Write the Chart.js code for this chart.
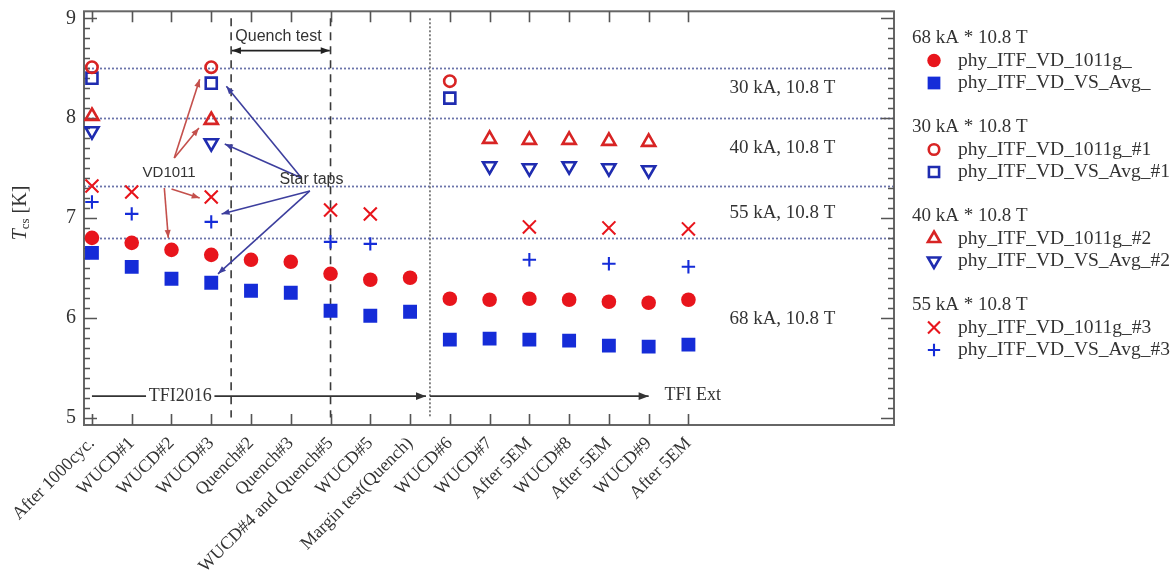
<!DOCTYPE html>
<html>
<head>
<meta charset="utf-8">
<script src="https://cdn.jsdelivr.net/npm/chart.js@4"></script>
<style>
  html, body { margin: 0; padding: 0; background: #fff; }
  canvas { display: block; }
</style>
</head>
<body>
<canvas id="c" width="1174" height="581"></canvas>
<script>
// Test steps along the campaign (x axis)
const categories = ['After 1000cyc.', 'WUCD#1', 'WUCD#2', 'WUCD#3', 'Quench#2', 'Quench#3',
  'WUCD#4 and Quench#5', 'WUCD#5', 'Margin test(Quench)', 'WUCD#6', 'WUCD#7', 'After 5EM',
  'WUCD#8', 'After 5EM', 'WUCD#9', 'After 5EM'];

// Tcs [K] at 68 kA * 10.8 T
const vd68 = [6.80, 6.75, 6.68, 6.63, 6.58, 6.56, 6.44, 6.38, 6.40, 6.19, 6.18, 6.19, 6.18, 6.16, 6.15, 6.18];
const vs68 = [6.65, 6.51, 6.39, 6.35, 6.27, 6.25, 6.07, 6.02, 6.06, 5.78, 5.79, 5.78, 5.77, 5.72, 5.71, 5.73];
// Tcs [K] at 30 kA * 10.8 T
const vd30 = [8.51, null, null, 8.51, null, null, null, null, null, 8.37, null, null, null, null, null, null];
const vs30 = [8.40, null, null, 8.35, null, null, null, null, null, 8.20, null, null, null, null, null, null];
// Tcs [K] at 40 kA * 10.8 T
const vd40 = [8.02, null, null, 7.98, null, null, null, null, null, null, 7.79, 7.78, 7.78, 7.77, 7.76, null];
const vs40 = [7.87, null, null, 7.75, null, null, null, null, null, null, 7.52, 7.50, 7.52, 7.50, 7.48, null];
// Tcs [K] at 55 kA * 10.8 T
const vd55 = [7.32, 7.26, null, 7.21, null, null, 7.08, 7.04, null, null, null, 6.91, null, 6.90, null, 6.89];
const vs55 = [7.16, 7.04, null, 6.96, null, null, 6.76, 6.74, null, null, null, 6.58, null, 6.54, null, 6.51];

// Reference levels and their operating-point labels
const refLevels = [8.5, 8.0, 7.32, 6.8];
const rangeLabels = ['30 kA, 10.8 T', '40 kA, 10.8 T', '55 kA, 10.8 T', '68 kA, 10.8 T'];
const rangeLabelY = [8.30, 7.70, 7.05, 5.99];
const yTicks = [5, 6, 7, 8, 9];

const RED = '#e8151c', BLUE = '#152cd8', RED_O = '#d82424', BLUE_O = '#1f2cb0';
const SERIF = '"Liberation Serif", "DejaVu Serif", serif';
const SANS = '"Liberation Sans", Arial, sans-serif';

const series = [
  { group: '68 kA * 10.8 T', label: 'phy_ITF_VD_1011g_',     values: vd68, style: 'circle',   r: 7.3, rot: 0,   fill: true,  color: RED,    bw: 0 },
  { group: null,             label: 'phy_ITF_VD_VS_Avg_',    values: vs68, style: 'rect',     r: 9.8, rot: 0,   fill: true,  color: BLUE,   bw: 0 },
  { group: '30 kA * 10.8 T', label: 'phy_ITF_VD_1011g_#1',   values: vd30, style: 'circle',   r: 5.7, rot: 0,   fill: false, color: RED_O,  bw: 2.6 },
  { group: null,             label: 'phy_ITF_VD_VS_Avg_#1',  values: vs30, style: 'rect',     r: 7.8, rot: 0,   fill: false, color: BLUE_O, bw: 2.6 },
  { group: '40 kA * 10.8 T', label: 'phy_ITF_VD_1011g_#2',   values: vd40, style: 'triangle', r: 7.6, rot: 0,   fill: false, color: RED_O,  bw: 2.6 },
  { group: null,             label: 'phy_ITF_VD_VS_Avg_#2',  values: vs40, style: 'triangle', r: 7.6, rot: 180, fill: false, color: BLUE_O, bw: 2.6 },
  { group: '55 kA * 10.8 T', label: 'phy_ITF_VD_1011g_#3',   values: vd55, style: 'crossRot', r: 9.2, rot: 0,   fill: false, color: RED,    bw: 2.1 },
  { group: null,             label: 'phy_ITF_VD_VS_Avg_#3',  values: vs55, style: 'cross',    r: 6.7, rot: 0,   fill: false, color: BLUE,   bw: 2.1 }
];

function toPoints(arr) {
  const out = [];
  arr.forEach((v, i) => { if (v !== null) out.push({ x: i, y: v }); });
  return out;
}

const datasets = series.map(s => ({
  label: s.label,
  data: toPoints(s.values),
  showLine: false,
  pointStyle: s.style,
  pointRadius: s.r,
  pointHoverRadius: s.r,
  pointRotation: s.rot,
  pointBackgroundColor: s.fill ? s.color : 'rgba(0,0,0,0)',
  pointBorderColor: s.color,
  pointBorderWidth: s.bw,
  pointHoverBorderWidth: s.bw
}));

// Annotation arrows in data coordinates: [x1, y1, x2, y2]
const vdArrows = [[2.07, 7.60, 2.71, 8.39], [2.07, 7.60, 2.69, 7.90], [2.00, 7.29, 2.71, 7.20], [1.82, 7.30, 1.92, 6.80]];
const tapArrows = [[5.27, 7.40, 3.38, 8.32], [5.27, 7.40, 3.34, 7.74], [5.48, 7.27, 3.26, 7.04], [5.48, 7.27, 3.17, 6.44]];

function arrow(ctx, x1, y1, x2, y2, color, lw, head, both) {
  ctx.save();
  ctx.strokeStyle = color; ctx.fillStyle = color; ctx.lineWidth = lw; ctx.setLineDash([]);
  ctx.beginPath(); ctx.moveTo(x1, y1); ctx.lineTo(x2, y2); ctx.stroke();
  const drawHead = (tx, ty, fx, fy) => {
    const a = Math.atan2(ty - fy, tx - fx);
    ctx.beginPath();
    ctx.moveTo(tx, ty);
    ctx.lineTo(tx - head * Math.cos(a) + head * 0.38 * Math.sin(a), ty - head * Math.sin(a) - head * 0.38 * Math.cos(a));
    ctx.lineTo(tx - head * Math.cos(a) - head * 0.38 * Math.sin(a), ty - head * Math.sin(a) + head * 0.38 * Math.cos(a));
    ctx.closePath(); ctx.fill();
  };
  drawHead(x2, y2, x1, y1);
  if (both) drawHead(x1, y1, x2, y2);
  ctx.restore();
}

const decor = {
  id: 'decor',
  beforeDatasetsDraw(chart) {
    const { ctx, chartArea: a, scales: { x, y } } = chart;
    ctx.save();
    // horizontal reference levels
    ctx.strokeStyle = '#6b74aa'; ctx.lineWidth = 1.8; ctx.setLineDash([2, 2]);
    refLevels.forEach(v => {
      const py = Math.round(y.getPixelForValue(v)) + 0.5;
      ctx.beginPath(); ctx.moveTo(a.left, py); ctx.lineTo(a.right, py); ctx.stroke();
    });
    // campaign separators
    ctx.strokeStyle = '#3a3a3a'; ctx.lineWidth = 1.6; ctx.setLineDash([8, 6]);
    [3.5, 6].forEach(v => {
      const px = x.getPixelForValue(v);
      ctx.beginPath(); ctx.moveTo(px, y.getPixelForValue(9.0)); ctx.lineTo(px, y.getPixelForValue(5.0)); ctx.stroke();
    });
    ctx.strokeStyle = '#777'; ctx.lineWidth = 1.8; ctx.setLineDash([2, 2]);
    {
      const px = x.getPixelForValue(8.5);
      ctx.beginPath(); ctx.moveTo(px, y.getPixelForValue(9.0)); ctx.lineTo(px, y.getPixelForValue(5.0)); ctx.stroke();
    }
    ctx.setLineDash([]);

    // frame
    ctx.strokeStyle = '#666'; ctx.lineWidth = 2;
    ctx.strokeRect(a.left, a.top, a.right - a.left, a.bottom - a.top);

    // inward ticks
    ctx.strokeStyle = '#555'; ctx.lineWidth = 1.6;
    ctx.beginPath();
    categories.forEach((_, i) => {
      const px = Math.round(x.getPixelForValue(i)) + 0.5;
      ctx.moveTo(px, a.top); ctx.lineTo(px, a.top + 11);
      ctx.moveTo(px, a.bottom); ctx.lineTo(px, a.bottom - 11);
    });
    for (let k = 50; k <= 90; k++) {
      const py = Math.round(y.getPixelForValue(k / 10)) + 0.5;
      const len = k % 10 === 0 ? 13 : 6;
      ctx.moveTo(a.left, py); ctx.lineTo(a.left + len, py);
      ctx.moveTo(a.right, py); ctx.lineTo(a.right - len, py);
    }
    ctx.stroke();

    // operating point labels
    ctx.fillStyle = '#333'; ctx.font = '19px ' + SERIF; ctx.textAlign = 'left'; ctx.textBaseline = 'middle';
    rangeLabels.forEach((t, i) => ctx.fillText(t, x.getPixelForValue(16.03), y.getPixelForValue(rangeLabelY[i])));

    // campaign arrows
    const py = y.getPixelForValue(5.214);
    ctx.font = '18px ' + SERIF; ctx.fillStyle = '#333';
    ctx.strokeStyle = '#333'; ctx.lineWidth = 1.6;
    ctx.beginPath(); ctx.moveTo(x.getPixelForValue(0), py); ctx.lineTo(x.getPixelForValue(1.36), py); ctx.stroke();
    ctx.textAlign = 'center';
    ctx.fillText('TFI2016', x.getPixelForValue(2.22), py);
    arrow(ctx, x.getPixelForValue(3.08), py, x.getPixelForValue(8.4), py, '#333', 1.6, 10, false);
    arrow(ctx, x.getPixelForValue(8.5), py, x.getPixelForValue(14.0), py, '#333', 1.6, 10, false);
    ctx.textAlign = 'left';
    ctx.fillText('TFI Ext', x.getPixelForValue(14.4), py - 1);

    // quench test bracket
    const qy = y.getPixelForValue(8.676);
    arrow(ctx, x.getPixelForValue(3.52), qy, x.getPixelForValue(5.98), qy, '#222', 1.6, 9, true);
    ctx.font = '16px ' + SANS; ctx.fillStyle = '#333'; ctx.textAlign = 'center';
    ctx.fillText('Quench test', x.getPixelForValue(4.69), y.getPixelForValue(8.815));

    // tap annotations
    vdArrows.forEach(p => arrow(ctx, x.getPixelForValue(p[0]), y.getPixelForValue(p[1]),
      x.getPixelForValue(p[2]), y.getPixelForValue(p[3]), '#c4504c', 1.6, 8, false));
    tapArrows.forEach(p => arrow(ctx, x.getPixelForValue(p[0]), y.getPixelForValue(p[1]),
      x.getPixelForValue(p[2]), y.getPixelForValue(p[3]), '#3d3f9e', 1.6, 8, false));
    ctx.font = '15px ' + SANS; ctx.fillStyle = '#333'; ctx.textAlign = 'center';
    ctx.fillText('VD1011', x.getPixelForValue(1.94), y.getPixelForValue(7.45));
    ctx.font = '16px ' + SANS;
    ctx.fillText('Star taps', x.getPixelForValue(5.52), y.getPixelForValue(7.38));
    ctx.restore();
  },
  afterDraw(chart) {
    const { ctx } = chart;
    const H = Chart.helpers;
    ctx.save();
    // y-axis title: T_cs [K]
    ctx.translate(21, 213);
    ctx.rotate(-Math.PI / 2);
    ctx.fillStyle = '#333'; ctx.textBaseline = 'middle'; ctx.textAlign = 'left';
    const fT = 'italic 20px ' + SERIF, fS = '13px ' + SERIF, fK = '20px ' + SERIF;
    ctx.font = fT; const wT = ctx.measureText('T').width;
    ctx.font = fS; const wS = ctx.measureText('cs').width;
    ctx.font = fK; const wK = ctx.measureText(' [K]').width;
    let cx = -(wT + wS + wK) / 2;
    ctx.font = fT; ctx.fillText('T', cx, 0); cx += wT;
    ctx.font = fS; ctx.fillText('cs', cx, 5); cx += wS;
    ctx.font = fK; ctx.fillText(' [K]', cx, 0);
    ctx.restore();

    // legend with group headings
    ctx.save();
    ctx.textBaseline = 'middle'; ctx.textAlign = 'left';
    const headY = [38, 127, 216, 305];
    let g = -1, row = 0;
    series.forEach(s => {
      if (s.group) { g++; row = 0; ctx.font = '19px ' + SERIF; ctx.fillStyle = '#333'; ctx.fillText(s.group, 912, headY[g]); }
      row++;
      const yy = headY[g] + row * 22.5;
      ctx.fillStyle = s.fill ? s.color : 'rgba(0,0,0,0)';
      ctx.strokeStyle = s.color;
      ctx.lineWidth = s.bw;
      H.drawPoint(ctx, { pointStyle: s.style, rotation: s.rot, radius: s.r * 0.92, borderWidth: s.bw }, 934, yy);
      ctx.font = '19.5px ' + SERIF; ctx.fillStyle = '#333';
      ctx.fillText(s.label, 958, yy);
    });
    ctx.restore();
  }
};

new Chart(document.getElementById('c'), {
  type: 'scatter',
  data: { datasets },
  options: {
    responsive: false,
    animation: false,
    events: [],
    layout: { padding: { left: 0, top: 10, right: 280, bottom: 0 } },
    plugins: { legend: { display: false }, tooltip: { enabled: false } },
    scales: {
      x: {
        type: 'linear', min: -0.2, max: 20.17,
        afterBuildTicks: s => { s.ticks = categories.map((_, i) => ({ value: i })); },
        afterFit: s => { s.height = 156; s.paddingLeft = 0; s.paddingRight = 0; },
        grid: { display: false, drawTicks: false },
        border: { display: false },
        ticks: {
          autoSkip: false, minRotation: 45, maxRotation: 45, padding: 8,
          color: '#333', font: { family: SERIF, size: 18 },
          callback: v => categories[v]
        }
      },
      y: {
        type: 'linear', min: 4.925, max: 9.07,
        afterBuildTicks: s => { s.ticks = yTicks.map(v => ({ value: v })); },
        afterFit: s => { s.width = 84; s.paddingTop = 0; s.paddingBottom = 0; },
        grid: { display: false, drawTicks: false },
        border: { display: false },
        ticks: { padding: 8, color: '#333', font: { family: SERIF, size: 20 } }
      }
    }
  },
  plugins: [decor]
});
</script>
</body>
</html>
